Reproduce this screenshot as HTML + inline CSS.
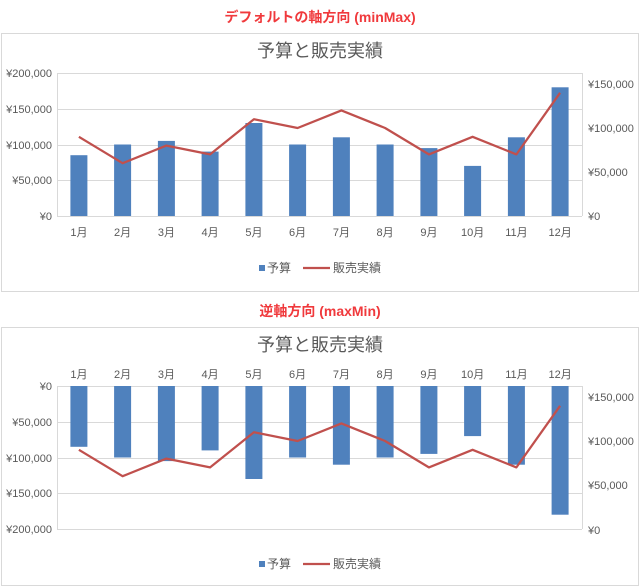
<!DOCTYPE html>
<html><head><meta charset="utf-8"><style>
body{margin:0;background:#fff;}
svg{display:block;font-family:"Liberation Sans","Noto Sans CJK JP",sans-serif;}
</style></head><body>
<svg width="640" height="587" viewBox="0 0 640 587" xmlns="http://www.w3.org/2000/svg">
<g font-family="Liberation Sans, Noto Sans CJK JP, sans-serif">
<!-- Chart 1 -->
<text x="320" y="22" text-anchor="middle" font-size="14" font-weight="bold" fill="#f0393c">デフォルトの軸方向 (minMax)</text>
<rect x="1.5" y="33.5" width="637" height="258" fill="#fff" stroke="#d9d9d9"/>
<text x="320" y="57" text-anchor="middle" font-size="18" fill="#595959">予算と販売実績</text>
<g stroke="#d9d9d9" stroke-width="1">
<line x1="57" x2="582" y1="73.5" y2="73.5"/><line x1="57" x2="582" y1="109.5" y2="109.5"/><line x1="57" x2="582" y1="145.5" y2="145.5"/><line x1="57" x2="582" y1="180.5" y2="180.5"/><line x1="57" x2="582" y1="216.5" y2="216.5"/>
<line x1="57.5" x2="57.5" y1="73" y2="216"/><line x1="582.5" x2="582.5" y1="73" y2="216"/>
</g>
<g font-size="11" fill="#595959" text-anchor="end">
<text x="52" y="77">¥200,000</text><text x="52" y="113">¥150,000</text><text x="52" y="149">¥100,000</text><text x="52" y="184">¥50,000</text><text x="52" y="220">¥0</text>
</g>
<g font-size="11" fill="#595959">
<text x="588" y="88">¥150,000</text><text x="588" y="132">¥100,000</text><text x="588" y="176">¥50,000</text><text x="588" y="220">¥0</text>
</g>
<g fill="#4f81bd">
<rect x="70.4" y="155.2" width="17" height="60.8"/><rect x="114.1" y="144.5" width="17" height="71.5"/><rect x="157.9" y="140.9" width="17" height="75.1"/><rect x="201.6" y="151.6" width="17" height="64.4"/><rect x="245.4" y="123" width="17" height="93"/><rect x="289.1" y="144.5" width="17" height="71.5"/><rect x="332.9" y="137.3" width="17" height="78.7"/><rect x="376.6" y="144.5" width="17" height="71.5"/><rect x="420.4" y="148.1" width="17" height="67.9"/><rect x="464.1" y="165.9" width="17" height="50.1"/><rect x="507.9" y="137.3" width="17" height="78.7"/><rect x="551.6" y="87.3" width="17" height="128.7"/>
</g>
<polyline fill="none" stroke="#c0504d" stroke-width="2.25" stroke-linejoin="round" points="78.9,136.8 122.6,163.2 166.4,145.6 210.1,154.4 253.9,119.2 297.6,128 341.4,110.4 385.1,128 428.9,154.4 472.6,136.8 516.4,154.4 560.1,92.8"/>
<g font-size="11" fill="#595959" text-anchor="middle">
<text x="78.9" y="236">1月</text><text x="122.6" y="236">2月</text><text x="166.4" y="236">3月</text><text x="210.1" y="236">4月</text><text x="253.9" y="236">5月</text><text x="297.6" y="236">6月</text><text x="341.4" y="236">7月</text><text x="385.1" y="236">8月</text><text x="428.9" y="236">9月</text><text x="472.6" y="236">10月</text><text x="516.4" y="236">11月</text><text x="560.1" y="236">12月</text>
</g>
<rect x="259" y="265" width="6" height="6" fill="#4f81bd"/>
<text x="267" y="272" font-size="12" fill="#595959">予算</text>
<line x1="303" x2="330" y1="268" y2="268" stroke="#c0504d" stroke-width="2.25"/>
<text x="333" y="272" font-size="12" fill="#595959">販売実績</text>

<!-- Chart 2 -->
<text x="320" y="316" text-anchor="middle" font-size="14" font-weight="bold" fill="#f0393c">逆軸方向 (maxMin)</text>
<rect x="1.5" y="327.5" width="637" height="258" fill="#fff" stroke="#d9d9d9"/>
<text x="320" y="351" text-anchor="middle" font-size="18" fill="#595959">予算と販売実績</text>
<g stroke="#d9d9d9" stroke-width="1">
<line x1="57" x2="582" y1="386.5" y2="386.5"/><line x1="57" x2="582" y1="422.5" y2="422.5"/><line x1="57" x2="582" y1="458.5" y2="458.5"/><line x1="57" x2="582" y1="493.5" y2="493.5"/><line x1="57" x2="582" y1="529.5" y2="529.5"/>
<line x1="57.5" x2="57.5" y1="386" y2="529"/><line x1="582.5" x2="582.5" y1="386" y2="529"/>
</g>
<g font-size="11" fill="#595959" text-anchor="end">
<text x="52" y="390">¥0</text><text x="52" y="426">¥50,000</text><text x="52" y="462">¥100,000</text><text x="52" y="497">¥150,000</text><text x="52" y="533">¥200,000</text>
</g>
<g font-size="11" fill="#595959">
<text x="588" y="401">¥150,000</text><text x="588" y="445">¥100,000</text><text x="588" y="489">¥50,000</text><text x="588" y="534">¥0</text>
</g>
<g fill="#4f81bd">
<rect x="70.4" y="386" width="17" height="60.8"/><rect x="114.1" y="386" width="17" height="71.5"/><rect x="157.9" y="386" width="17" height="75.1"/><rect x="201.6" y="386" width="17" height="64.4"/><rect x="245.4" y="386" width="17" height="93"/><rect x="289.1" y="386" width="17" height="71.5"/><rect x="332.9" y="386" width="17" height="78.7"/><rect x="376.6" y="386" width="17" height="71.5"/><rect x="420.4" y="386" width="17" height="67.9"/><rect x="464.1" y="386" width="17" height="50.1"/><rect x="507.9" y="386" width="17" height="78.7"/><rect x="551.6" y="386" width="17" height="128.7"/>
</g>
<polyline fill="none" stroke="#c0504d" stroke-width="2.25" stroke-linejoin="round" points="78.9,449.8 122.6,476.2 166.4,458.6 210.1,467.4 253.9,432.2 297.6,441 341.4,423.4 385.1,441 428.9,467.4 472.6,449.8 516.4,467.4 560.1,405.8"/>
<g font-size="11" fill="#595959" text-anchor="middle">
<text x="78.9" y="378">1月</text><text x="122.6" y="378">2月</text><text x="166.4" y="378">3月</text><text x="210.1" y="378">4月</text><text x="253.9" y="378">5月</text><text x="297.6" y="378">6月</text><text x="341.4" y="378">7月</text><text x="385.1" y="378">8月</text><text x="428.9" y="378">9月</text><text x="472.6" y="378">10月</text><text x="516.4" y="378">11月</text><text x="560.1" y="378">12月</text>
</g>
<rect x="259" y="561" width="6" height="6" fill="#4f81bd"/>
<text x="267" y="568" font-size="12" fill="#595959">予算</text>
<line x1="303" x2="330" y1="564" y2="564" stroke="#c0504d" stroke-width="2.25"/>
<text x="333" y="568" font-size="12" fill="#595959">販売実績</text>
</g>
</svg>
</body></html>
